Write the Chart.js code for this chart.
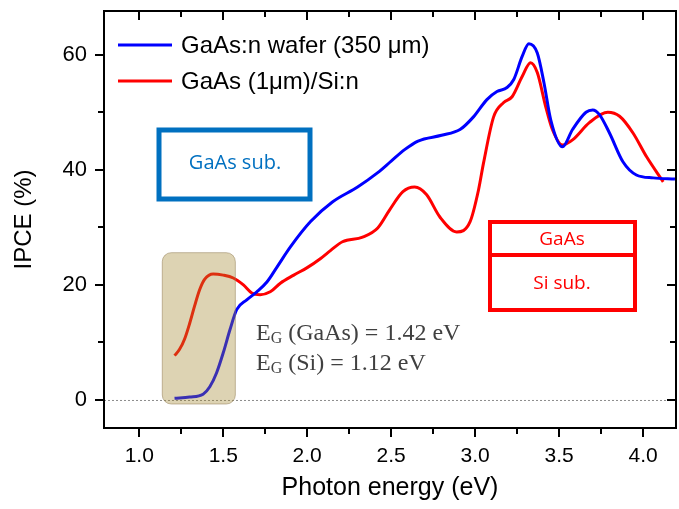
<!DOCTYPE html>
<html>
<head>
<meta charset="utf-8">
<script src="https://cdn.jsdelivr.net/npm/chart.js@4.4.1/dist/chart.umd.min.js"></script>
<style>
  html, body { margin: 0; padding: 0; background: #fff; }
  #wrap { width: 679px; height: 509px; }
</style>
</head>
<body>
<div id="wrap"><canvas id="myChart" width="679" height="509"></canvas></div>
<script>
// photon energy (eV) and IPCE (%)
const waferEnergy = [1.21, 1.30, 1.38, 1.42, 1.46, 1.50, 1.54, 1.58, 1.64, 1.70, 1.76, 1.82, 1.90, 2.02, 2.15, 2.30, 2.42, 2.50, 2.58, 2.66, 2.80, 2.91, 2.99, 3.07, 3.13, 3.19, 3.23, 3.28, 3.32, 3.37, 3.41, 3.45, 3.52, 3.58, 3.66, 3.70, 3.74, 3.80, 3.88, 3.96, 4.06, 4.19];
const waferIpce   = [0.3, 0.5, 1.0, 2.3, 4.7, 8.2, 12.2, 15.7, 17.4, 18.8, 20.5, 23.1, 26.6, 31.0, 34.4, 37.0, 39.5, 41.5, 43.5, 45.0, 46.0, 47.0, 49.2, 52.2, 53.6, 54.3, 55.7, 59.7, 61.9, 60.3, 55.1, 48.7, 44.0, 47.0, 50.0, 50.4, 49.6, 46.4, 41.4, 39.1, 38.6, 38.4];

const siEnergy = [1.21, 1.24, 1.27, 1.30, 1.33, 1.36, 1.39, 1.44, 1.50, 1.56, 1.62, 1.67, 1.72, 1.78, 1.84, 1.92, 2.00, 2.08, 2.14, 2.21, 2.33, 2.42, 2.49, 2.57, 2.64, 2.71, 2.79, 2.89, 2.97, 3.02, 3.05, 3.11, 3.17, 3.22, 3.28, 3.33, 3.37, 3.42, 3.46, 3.52, 3.58, 3.68, 3.79, 3.86, 3.94, 4.02, 4.12];
const siIpce   = [7.7, 8.8, 10.6, 13.3, 16.4, 19.2, 21.0, 21.9, 21.7, 21.2, 20.0, 18.6, 18.3, 18.8, 20.3, 21.7, 23.0, 24.6, 26.0, 27.5, 28.3, 29.9, 33.0, 36.2, 37.0, 35.7, 31.8, 29.2, 31.0, 36.5, 41.2, 49.2, 51.7, 52.7, 56.2, 58.6, 56.9, 51.0, 47.0, 44.3, 45.2, 48.2, 50.0, 49.3, 46.4, 42.3, 37.9];

const seriesLabels = ['GaAs:n wafer (350 \u03BCm)', 'GaAs (1\u03BCm)/Si:n'];
const xTicks = [1.0, 1.5, 2.0, 2.5, 3.0, 3.5, 4.0];
const yTicks = [0, 20, 40, 60];

const AX_FONT = 'Liberation Sans, Arial, sans-serif';

function toPoints(xs, ys) {
    return xs.map((x, i) => ({ x: x, y: ys[i] }));
}

// keep the tick-label padding from pushing the plot area around
function noScalePadding(s) {
    s.paddingTop = 0;
    s.paddingBottom = 0;
    s.paddingLeft = 0;
    s.paddingRight = 0;
}

// frame, mirrored ticks, zero line and the drawn annotations
const decorations = {
    id: 'decorations',
    beforeDatasetsDraw(chart) {
        const { ctx, chartArea: a, scales } = chart;
        const y0 = scales.y.getPixelForValue(0);
        ctx.save();
        ctx.strokeStyle = '#8c8c8c';
        ctx.lineWidth = 1;
        ctx.setLineDash([2, 2]);
        ctx.beginPath();
        ctx.moveTo(a.left, y0 + 0.5);
        ctx.lineTo(a.right, y0 + 0.5);
        ctx.stroke();
        ctx.restore();
    },
    afterDatasetsDraw(chart) {
        const { ctx, scales } = chart;
        const x = scales.x, y = scales.y;
        ctx.save();

        // shaded band over the Si absorption edge
        const bx1 = x.getPixelForValue(1.137), bx2 = x.getPixelForValue(1.572);
        const by1 = y.getPixelForValue(25.6), by2 = y.getPixelForValue(-0.7);
        ctx.beginPath();
        ctx.roundRect(bx1, by1, bx2 - bx1, by2 - by1, 9);
        ctx.fillStyle = 'rgba(160,132,45,0.36)';
        ctx.fill();
        ctx.strokeStyle = 'rgba(150,130,90,0.55)';
        ctx.lineWidth = 1;
        ctx.stroke();

        // GaAs substrate box
        ctx.lineWidth = 5;
        ctx.strokeStyle = '#0070C0';
        ctx.strokeRect(159, 130, 151, 69);
        ctx.fillStyle = '#0070C0';
        ctx.font = '20px "Open Sans", sans-serif';
        ctx.textAlign = 'center';
        ctx.textBaseline = 'middle';
        ctx.fillText('GaAs sub.', 235, 163);

        // GaAs on Si stack
        ctx.strokeStyle = '#FF0000';
        ctx.lineWidth = 4;
        ctx.strokeRect(490, 222, 145, 88);
        ctx.beginPath();
        ctx.moveTo(490, 255);
        ctx.lineTo(635, 255);
        ctx.stroke();
        ctx.fillStyle = '#FF0000';
        ctx.font = '19px "Open Sans", sans-serif';
        ctx.fillText('GaAs', 562, 240);
        ctx.fillText('Si sub.', 562, 284);

        // band gap text
        ctx.fillStyle = '#404040';
        ctx.textAlign = 'left';
        ctx.textBaseline = 'alphabetic';
        const eg = [['(GaAs) = 1.42 eV', 340], ['(Si) = 1.12 eV', 370]];
        eg.forEach(([rest, base]) => {
            let cx = 256;
            ctx.font = '24px "Liberation Serif", serif';
            ctx.fillText('E', cx, base);
            cx += ctx.measureText('E').width;
            ctx.font = '16px "Liberation Serif", serif';
            ctx.fillText('G', cx, base + 3);
            cx += ctx.measureText('G').width + 6;
            ctx.font = '24px "Liberation Serif", serif';
            ctx.fillText(rest, cx, base);
        });

        // legend
        ctx.font = '24px ' + AX_FONT;
        ctx.textBaseline = 'middle';
        chart.data.datasets.forEach((ds, i) => {
            const ly = 45 + i * 36;
            ctx.strokeStyle = ds.borderColor;
            ctx.lineWidth = 3;
            ctx.beginPath();
            ctx.moveTo(118, ly);
            ctx.lineTo(172, ly);
            ctx.stroke();
            ctx.fillStyle = '#000';
            ctx.fillText(ds.label, 181, ly + 1);
        });
        ctx.restore();
    },
    afterDraw(chart) {
        const { ctx, chartArea: a, scales } = chart;
        const x = scales.x, y = scales.y;
        ctx.save();
        ctx.strokeStyle = '#000';
        ctx.lineWidth = 2;
        ctx.strokeRect(a.left, a.top, a.right - a.left, a.bottom - a.top);

        ctx.beginPath();
        for (let v = 1.0; v <= 4.0001; v += 0.25) {
            const px = Math.round(x.getPixelForValue(v));
            const major = Math.abs(v * 2 - Math.round(v * 2)) < 1e-6;
            const len = major ? 9 : 6;
            ctx.moveTo(px, a.bottom);
            ctx.lineTo(px, a.bottom + len);
            ctx.moveTo(px, a.top);
            ctx.lineTo(px, a.top + len);
        }
        for (let v = 0; v <= 60; v += 10) {
            const py = Math.round(y.getPixelForValue(v));
            const len = v % 20 === 0 ? 9 : 6;
            ctx.moveTo(a.left, py);
            ctx.lineTo(a.left - len, py);
            ctx.moveTo(a.right, py);
            ctx.lineTo(a.right - len, py);
        }
        ctx.stroke();
        ctx.restore();
    }
};

const ctx = document.getElementById('myChart');
const myChart = new Chart(ctx, {
    type: 'line',
    data: {
        datasets: [{
            label: seriesLabels[0],
            data: toPoints(waferEnergy, waferIpce),
            borderColor: '#0000FF',
            borderWidth: 3,
            pointRadius: 0,
            cubicInterpolationMode: 'monotone',
            fill: false
        }, {
            label: seriesLabels[1],
            data: toPoints(siEnergy, siIpce),
            borderColor: '#FF0000',
            borderWidth: 3,
            pointRadius: 0,
            cubicInterpolationMode: 'monotone',
            fill: false
        }]
    },
    options: {
        responsive: false,
        animation: false,
        layout: { padding: { top: 11, right: 3, left: 0, bottom: 0 } },
        plugins: {
            legend: { display: false },
            tooltip: { enabled: false }
        },
        scales: {
            x: {
                type: 'linear',
                min: 0.79,
                max: 4.196,
                afterBuildTicks: s => { s.ticks = xTicks.map(v => ({ value: v })); },
                afterFit: s => { s.height = 81; noScalePadding(s); },
                grid: { display: false, drawTicks: false },
                border: { display: false },
                ticks: {
                    color: '#000',
                    padding: 16,
                    font: { family: AX_FONT, size: 21 },
                    callback: v => v.toFixed(1),
                    maxRotation: 0
                },
                title: {
                    display: true,
                    text: 'Photon energy (eV)',
                    color: '#000',
                    font: { family: AX_FONT, size: 25 },
                    padding: { top: 0, bottom: 6 }
                }
            },
            y: {
                min: -4.87,
                max: 67.6,
                afterBuildTicks: s => { s.ticks = yTicks.map(v => ({ value: v })); },
                afterFit: s => { s.width = 104; noScalePadding(s); },
                grid: { display: false, drawTicks: false },
                border: { display: false },
                ticks: {
                    color: '#000',
                    padding: 17,
                    font: { family: AX_FONT, size: 22 }
                },
                title: {
                    display: true,
                    text: 'IPCE (%)',
                    color: '#000',
                    font: { family: AX_FONT, size: 24 },
                    padding: { top: 10, bottom: 12 }
                }
            }
        }
    },
    plugins: [decorations]
});
</script>
</body>
</html>
